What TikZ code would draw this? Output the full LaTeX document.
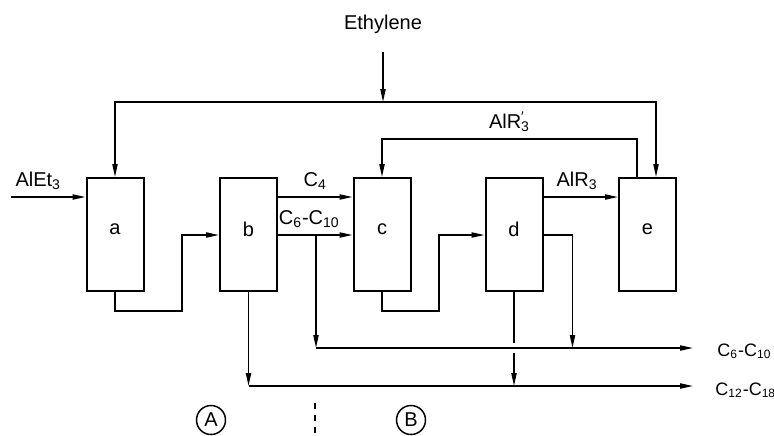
\documentclass[tikz,border=0pt]{standalone}
\usepackage{fontspec}
\setmainfont{Liberation Sans}
\usetikzlibrary{arrows.meta,calc}
\begin{document}
\begin{tikzpicture}[x=0.5pt,y=-0.5pt,font=\fontsize{10}{12}\selectfont,
    unit/.style={draw,line width=1pt,minimum width=28.5pt,minimum height=56.5pt,inner sep=0pt},
    pipe/.style={line width=0.75pt},
    flow/.style={pipe,-{Triangle[length=6.5pt,width=2.6pt]}},
    product/.style={anchor=west,inner sep=0pt,font=\fontsize{9}{11}\selectfont},
    tag/.style={draw,circle,line width=0.75pt,minimum size=14.5pt,inner sep=0pt}]
    \useasboundingbox (0,0) rectangle (774,435);
    % rows of the streams
    \coordinate (top) at (0,102); \coordinate (r1) at (0,197); \coordinate (r2) at (0,235);
    \coordinate (r6) at (0,348); \coordinate (r12) at (0,386);
    \foreach \n/\x in {a/115,b/248.5,c/382,d/514,e/647.5} \node[unit] (\n) at (\x,234.5) {\raisebox{5pt}{\n}};
    \node (eth) at (383,24) {Ethylene};
    \node[product] (out6) at (717,351) {C\textsubscript{6}-C\textsubscript{10}};
    \node[product] (out12) at (715,390) {C\textsubscript{12}-C\textsubscript{18}};
    % ethylene feed
    \draw[flow] ($(eth.south)+(0,12)$) -- (eth.south |- top) coordinate (split);
    \draw[flow] (split) -| (a.north);
    \draw[flow] (split) -| ($(e.north)+(8.5,0)$);
    \draw[flow] ($(e.north)+(-10.5,0)$) -- ++(0,-38) -| (c.north) node[pos=0.25,above] (alrr) {AlR\rlap{\textsuperscript{′}}\textsubscript{3}};
    \draw[flow] ($(a.west |- r1)+(-75,0)$) -- (a.west |- r1) node[pos=0.37,above] (alet) {AlEt\textsubscript{3}};
    \draw[flow] (b.east |- r1) -- (c.west |- r1) node[midway,above] (c4) {C\textsubscript{4}};
    \draw[flow] (b.east |- r2) -- (c.west |- r2) node[pos=0.42,above] (c610) {C\textsubscript{6}-C\textsubscript{10}};
    \draw[flow] (d.east |- r1) -- (e.west |- r1) node[pos=0.45,above] (alr) {AlR\textsubscript{3}};
    \draw[flow] (a.south) -- ++(0,19) -- ++(67,0) |- (b.west |- r2);
    \draw[flow] (c.south) -- ++(0,19) -- ++(57,0) |- (d.west |- r2);
    % product lines
    \coordinate (tap) at ($(b.east |- r2)+(38,0)$);
    \draw[flow] (tap) -- (tap |- r6);
    \draw[flow] (tap |- r6) -- ($(out6.west |- r6)+(-24,0)$);
    \draw[flow] (d.east |- r2) -- ++(29,0) coordinate (tapd) -- (tapd |- r6);
    \draw[flow] (b.south) -- (b.south |- r12);
    \draw[flow] (b.south |- r12) -- ($(out12.west |- r12)+(-22,0)$);
    \draw[pipe] (d.south) -- ($(d.south |- r6)+(0,-5)$);
    \draw[flow] ($(d.south |- r6)+(0,5)$) -- (d.south |- r12);
    \node[tag] (zoneA) at (211,420) {A};
    \node[tag] (zoneB) at (411,420) {B};
    \draw[pipe,dashed] (315,403) -- (315,435);
  \end{tikzpicture}
\end{document}
